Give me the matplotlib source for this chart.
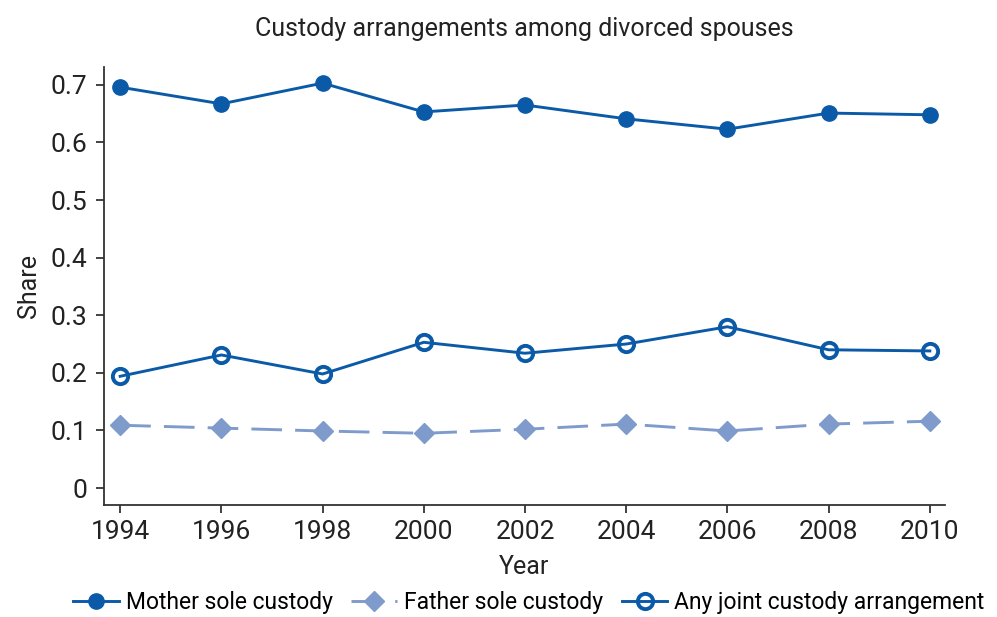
import matplotlib
matplotlib.use("Agg")
import matplotlib.pyplot as plt

plt.rcParams['font.family'] = ['Roboto', 'DejaVu Sans']

years = [1994, 1996, 1998, 2000, 2002, 2004, 2006, 2008, 2010]
mother = [0.696, 0.667, 0.703, 0.653, 0.665, 0.641, 0.623, 0.651, 0.648]
father = [0.109, 0.104, 0.099, 0.095, 0.102, 0.111, 0.099, 0.111, 0.116]
joint = [0.194, 0.231, 0.198, 0.253, 0.234, 0.250, 0.280, 0.240, 0.238]
yticks = [0, 0.1, 0.2, 0.3, 0.4, 0.5, 0.6, 0.7]
ytick_labels = ["0", "0.1", "0.2", "0.3", "0.4", "0.5", "0.6", "0.7"]

dark = "#0b5aa8"
light = "#7f9bcc"

fig = plt.figure(figsize=(9.97, 6.17), dpi=100)
ax = fig.add_axes([104/997, (617-505)/617, (945-104)/997, (505-67)/617])

ax.plot(years, mother, color=dark, lw=2.1, marker='o', ms=11, label="Mother sole custody")
ax.plot(years, father, color=light, lw=2.1, ls=(0, (10.5, 4.5)), marker='D', ms=10, label="Father sole custody")
ax.plot(years, joint, color=dark, lw=2.1, marker='o', ms=11, mfc='none', mew=2.8, label="Any joint custody arrangement")

ax.set_xlim(1993.68, 2010.3)
ax.set_ylim(-0.0295, 0.731)
ax.set_xticks(years)
ax.set_xticklabels([str(y) for y in years])
ax.set_yticks(yticks)
ax.set_yticklabels(ytick_labels)
for s in ['top', 'right']:
    ax.spines[s].set_visible(False)
for s in ['left', 'bottom']:
    ax.spines[s].set_color('#333333')
    ax.spines[s].set_linewidth(1.3)
ax.tick_params(axis='both', labelsize=19, colors='#222222', length=6, width=1.2, pad=6)
ax.tick_params(axis='x', pad=5)
ax.set_xlabel("Year", fontsize=18, color='#222222', labelpad=8)
ax.set_ylabel("Share", fontsize=18, color='#222222', labelpad=7)
ax.set_title("Custody arrangements among divorced spouses", fontsize=18, color='#222222', pad=22)

fig.legend(loc='center', bbox_to_anchor=(529/997, 1 - 603/617), ncol=3, frameon=False,
           fontsize=16.5, handlelength=2.0, columnspacing=0.8, handletextpad=0.3, borderaxespad=0)

fig.savefig("out.png", dpi=100)
